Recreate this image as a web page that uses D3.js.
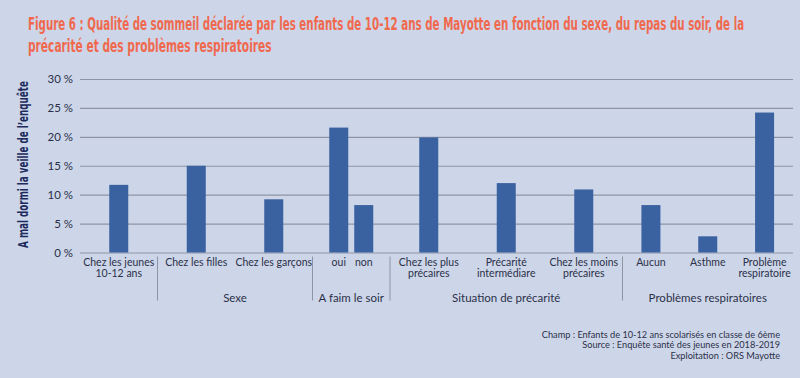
<!DOCTYPE html>
<html>
<head>
<meta charset="utf-8">
<script src="https://cdn.jsdelivr.net/npm/d3@7"></script>
<style>
html,body{margin:0;padding:0;background:#cdd6e9;}
svg{display:block;}
</style>
</head>
<body>
<svg id="chart" width="800" height="378"></svg>
<script>
// ---- data ----
const titleLines = [
  "Figure 6 : Qualité de sommeil déclarée par les enfants de 10-12 ans de Mayotte en fonction du sexe, du repas du soir, de la",
  "précarité et des problèmes respiratoires"
];
const yTitle = "A mal dormi la veille de l’enquête";
const groupNames = ["", "Sexe", "A faim le soir", "Situation de précarité", "Problèmes respiratoires"];
const categories = [
  "Chez les jeunes\n10-12 ans",
  "Chez les filles", "Chez les garçons",
  "oui", "non",
  "Chez les plus\nprécaires", "Précarité\nintermédiare", "Chez les moins\nprécaires",
  "Aucun", "Asthme", "Problème\nrespiratoire"
];
const categoryGroup = [0, 1, 1, 2, 2, 3, 3, 3, 4, 4, 4];
const values = [11.7, 15.0, 9.2, 21.6, 8.2, 19.9, 12.0, 10.9, 8.2, 2.8, 24.2];
const yTicks = [0, 5, 10, 15, 20, 25, 30];
const footer = [
  "Champ : Enfants de 10-12 ans scolarisés en classe de 6ème",
  "Source : Enquête santé des jeunes en 2018-2019",
  "Exploitation : ORS Mayotte"
];

// ---- layout ----
const W = 800, H = 378;
const plotLeft = 80, plotRight = 793, plotTop = 79, plotBottom = 252.5;
const groupWeights = [1, 2, 1, 3, 2.2];
const barWidth = 19;
const colors = {
  bg: "#cdd6e9", bar: "#3a61a0", grid: "#8e94a4", title: "#f0694e",
  axisTitle: "#1c2b5c", text: "#2b3048"
};
const condensed = "'Liberation Sans Narrow','DejaVu Sans Condensed','Roboto',sans-serif";
const body = "Lato, 'Open Sans', sans-serif";

const svg = d3.select("#chart");
svg.append("rect").attr("width", W).attr("height", H).attr("fill", colors.bg);

// Fit a text to a given width by horizontal scaling
function fitText(g, x, y, width, rotate) {
  const t = g.select("text");
  const len = t.node().getComputedTextLength();
  const s = width / len;
  g.attr("transform", `translate(${x},${y})${rotate ? " rotate(-90)" : ""} scale(${s},1)`);
}

// Title
[[titleLines[0], 30, 717], [titleLines[1], 52, 244]].forEach(([txt, yy, w]) => {
  const g = svg.append("g");
  g.append("text").attr("x", 0).attr("y", 0)
    .attr("font-family", condensed).attr("font-weight", "bold")
    .attr("font-size", 17).attr("fill", colors.title).text(txt);
  fitText(g, 28, yy, w, false);
});

// Scales
const y = d3.scaleLinear().domain([0, 30]).range([plotBottom, plotTop]);
const cum = [0];
groupWeights.forEach(w => cum.push(cum[cum.length - 1] + w));
const xUnits = d3.scaleLinear().domain([0, cum[cum.length - 1]]).range([plotLeft, plotRight]);
const groupExtent = groupNames.map((g, i) => [xUnits(cum[i]), xUnits(cum[i + 1])]);

const innerScales = groupNames.map((g, gi) => {
  const idx = categories.map((c, i) => i).filter(i => categoryGroup[i] === gi);
  const s = d3.scaleBand().domain(idx).range(groupExtent[gi]);
  if (gi === 2) s.paddingInner(0.2).paddingOuter(0.65);
  return s;
});
const xCenter = i => {
  const s = innerScales[categoryGroup[i]];
  return s(i) + s.bandwidth() / 2;
};

// Gridlines + y labels
const yAxis = d3.axisLeft(y).tickValues(yTicks)
  .tickFormat(d => d + " %")
  .tickSize(-(plotRight - plotLeft)).tickPadding(7);
const ga = svg.append("g").attr("transform", `translate(${plotLeft},0)`).call(yAxis);
ga.select(".domain").remove();
ga.selectAll(".tick line").attr("stroke", colors.grid).attr("stroke-width", 1.2);
ga.selectAll(".tick text").attr("font-family", body)
  .attr("font-size", 11.5).attr("fill", colors.text);

// Bars
svg.append("g").selectAll("rect").data(values).join("rect")
  .attr("x", (d, i) => xCenter(i) - barWidth / 2)
  .attr("width", barWidth)
  .attr("y", d => y(d))
  .attr("height", d => y(0) - y(d))
  .attr("fill", colors.bar);

// Category labels
const cl = svg.append("g").attr("font-family", body)
  .attr("font-size", 10.5).attr("fill", colors.text).attr("text-anchor", "middle");
categories.forEach((c, i) => {
  const t = cl.append("text").attr("x", xCenter(i)).attr("y", 266);
  c.split("\n").forEach((line, li) => {
    t.append("tspan").attr("x", xCenter(i)).attr("dy", li === 0 ? 0 : 10.8).text(line);
  });
});

// Group separators and labels
const sep = svg.append("g");
groupExtent.slice(1).forEach(e => {
  sep.append("line").attr("x1", e[0]).attr("x2", e[0])
    .attr("y1", 256.5).attr("y2", 300.5)
    .attr("stroke", colors.grid).attr("stroke-width", 1);
});
svg.append("g").selectAll("text").data(groupNames).join("text")
  .attr("x", (d, i) => (groupExtent[i][0] + groupExtent[i][1]) / 2)
  .attr("y", 302)
  .attr("text-anchor", "middle")
  .attr("font-family", body)
  .attr("font-size", 11.5).attr("fill", colors.text)
  .text(d => d);

// Y title
{
  const g = svg.append("g");
  g.append("text").attr("x", 0).attr("y", 0)
    .attr("text-anchor", "middle")
    .attr("font-family", condensed)
    .attr("font-weight", "bold").attr("font-size", 14.5).attr("fill", colors.axisTitle)
    .text(yTitle);
  fitText(g, 28, (81 + 248) / 2, 167, true);
}

// Footer
svg.append("g").selectAll("text").data(footer).join("text")
  .attr("x", 780).attr("y", (d, i) => 338 + i * 10.3)
  .attr("text-anchor", "end")
  .attr("font-family", body)
  .attr("font-size", 9.2).attr("fill", colors.text)
  .text(d => d);
</script>
</body>
</html>
